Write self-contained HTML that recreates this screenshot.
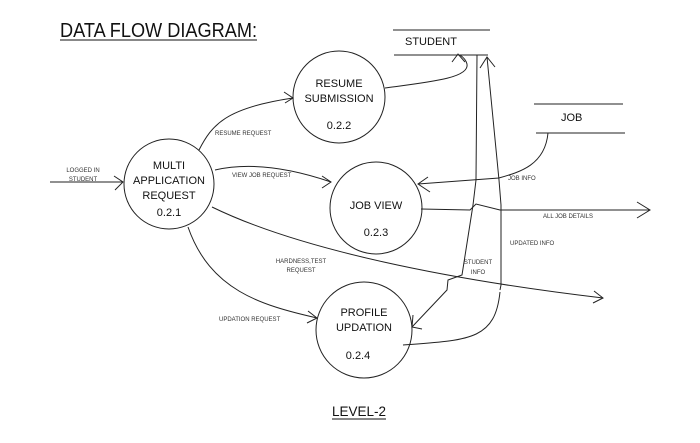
<!DOCTYPE html>
<html><head><meta charset="utf-8"><style>
html,body{margin:0;padding:0;background:#fff;}
svg{display:block;font-family:"Liberation Sans",sans-serif;}
.s{font-size:6px;fill:#333;}
.m{font-size:11px;fill:#111;}
</style></head><body>
<svg width="700" height="443" viewBox="0 0 700 443" xmlns="http://www.w3.org/2000/svg">
<g fill="none" stroke="#222" stroke-width="1">
<circle cx="339" cy="97" r="46"/>
<circle cx="169" cy="184" r="45"/>
<circle cx="376" cy="208" r="46"/>
<circle cx="364" cy="330" r="48"/>
<line x1="393" y1="30" x2="490" y2="30"/>
<line x1="394" y1="55" x2="488" y2="55"/>
<line x1="534" y1="104" x2="623" y2="104"/>
<line x1="536" y1="133" x2="625" y2="133"/>
<line x1="50" y1="182" x2="123" y2="182"/>
<path d="M114 176 L123 182 L115 190"/>
<path d="M199 150 C212 125 225 108 293 98"/>
<path d="M284 92 L293 98 L285 103"/>
<path d="M215 170 C250 162 290 168 331 182"/>
<path d="M322 176 L331 182 L322 188"/>
<path d="M212 207 C300 250 450 280 603 298"/>
<path d="M594 291 L603 298 L593 303"/>
<path d="M188 227 C210 290 260 305 317 318"/>
<path d="M308 311 L317 318 L307 323"/>
<path d="M385 88 C430 82 470 78 467 64 C466 60 463 57 460 55"/>
<path d="M452 62 L458 54 L465 62"/>
<path d="M477 55 L476 180 L473 205 L462 275 L448 280 L447 290 L412 327"/>
<path d="M413 315 L412 327 L422 329"/>
<path d="M500 290 L501 285 L501 205 L499 180 L487 57"/>
<path d="M480 68 L487 57 L495 67"/>
<path d="M500 292 C495 340 470 340 403 345"/>
<path d="M548 133 C545 165 520 172 499 178 L418 184"/>
<path d="M428 177 L418 184 L430 192"/>
<path d="M421 209 L470 210 L476 204 L500 210 L650 210"/>
<path d="M637 202 L650 210 L637 218"/>
</g>
<text x="60" y="37" font-size="20" fill="#111" textLength="197" lengthAdjust="spacingAndGlyphs">DATA FLOW DIAGRAM:</text>
<line x1="60" y1="40" x2="257" y2="40" stroke="#111" stroke-width="1"/>
<text x="405" y="45" class="m">STUDENT</text>
<text x="561" y="121" class="m">JOB</text>
<text x="339" y="87" class="m" text-anchor="middle">RESUME</text>
<text x="339" y="102" class="m" text-anchor="middle">SUBMISSION</text>
<text x="339" y="129" class="m" text-anchor="middle">0.2.2</text>
<text x="169" y="169" class="m" text-anchor="middle">MULTI</text>
<text x="169" y="184" class="m" text-anchor="middle">APPLICATION</text>
<text x="169" y="199" class="m" text-anchor="middle">REQUEST</text>
<text x="169" y="216" class="m" text-anchor="middle">0.2.1</text>
<text x="376" y="209" class="m" text-anchor="middle">JOB VIEW</text>
<text x="376" y="236" class="m" text-anchor="middle">0.2.3</text>
<text x="364" y="316" class="m" text-anchor="middle">PROFILE</text>
<text x="364" y="331" class="m" text-anchor="middle">UPDATION</text>
<text x="358" y="359" class="m" text-anchor="middle">0.2.4</text>
<text x="215" y="135" class="s">RESUME REQUEST</text>
<text x="232" y="177" class="s">VIEW JOB REQUEST</text>
<text x="83" y="172" class="s" text-anchor="middle">LOGGED IN</text>
<text x="83" y="181" class="s" text-anchor="middle">STUDENT</text>
<text x="508" y="180" class="s">JOB INFO</text>
<text x="543" y="218" class="s">ALL JOB DETAILS</text>
<text x="510" y="245" class="s">UPDATED INFO</text>
<text x="301" y="263" class="s" text-anchor="middle">HARDNESS,TEST</text>
<text x="301" y="272" class="s" text-anchor="middle">REQUEST</text>
<text x="478" y="264" class="s" text-anchor="middle">STUDENT</text>
<text x="478" y="274" class="s" text-anchor="middle">INFO</text>
<text x="219" y="321" class="s">UPDATION REQUEST</text>
<text x="332" y="416" font-size="14" fill="#111" textLength="54" lengthAdjust="spacingAndGlyphs">LEVEL-2</text>
<line x1="332" y1="419" x2="386" y2="419" stroke="#111"/>
</svg>
</body></html>
